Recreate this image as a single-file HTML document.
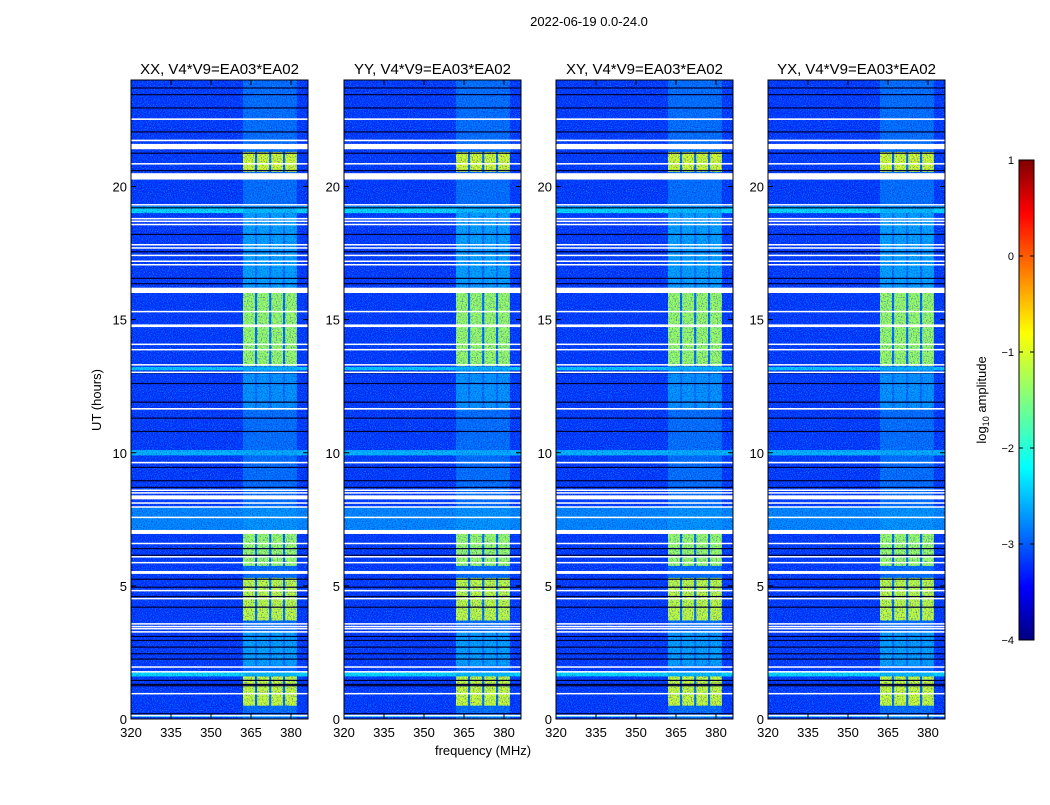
<!DOCTYPE html>
<html><head><meta charset="utf-8"><style>
body{margin:0;background:#fff;font-family:"Liberation Sans",sans-serif}
svg text{font-family:"Liberation Sans","DejaVu Sans",sans-serif}
</style></head><body>
<svg id="c" width="1050" height="800" xmlns="http://www.w3.org/2000/svg">
<defs>
<filter id="nz" x="0" y="0" width="100%" height="100%">
<feTurbulence type="fractalNoise" baseFrequency="0.95" numOctaves="2" seed="3"/>
<feColorMatrix type="matrix" values="0 0 0 0 0  0 0 0 0 0.7  0 0 0 0 1  0 0 0 3 -1.4"/>
</filter>
<filter id="nz2" x="0" y="0" width="100%" height="100%">
<feTurbulence type="fractalNoise" baseFrequency="0.8" numOctaves="1" seed="9"/>
<feColorMatrix type="matrix" values="0 0 0 0 0  0 0 0 0 0  0 0 0 0 0.5  0 0 0 3 -1.5"/>
</filter>
<linearGradient id="jet" x1="0" y1="1" x2="0" y2="0">
<stop offset="0" stop-color="#00007f"/><stop offset="0.11" stop-color="#0000ff"/>
<stop offset="0.36" stop-color="#00ffff"/><stop offset="0.5" stop-color="#7fff7f"/>
<stop offset="0.64" stop-color="#ffff00"/><stop offset="0.89" stop-color="#ff0000"/>
<stop offset="1" stop-color="#7f0000"/></linearGradient>
</defs>
<text x="589" y="26" font-size="13" text-anchor="middle">2022-06-19 0.0-24.0</text>
<text x="483" y="755" font-size="13" text-anchor="middle">frequency (MHz)</text>
<text transform="translate(101,400) rotate(-90)" font-size="13" text-anchor="middle">UT (hours)</text>
<g id="panels"></g>
<g>
<rect x="1019" y="160" width="15" height="480" fill="url(#jet)" stroke="#000" stroke-width="1"/>
<g id="cbt"></g>
<text transform="translate(986,400) rotate(-90)" font-size="13" text-anchor="middle">log<tspan font-size="9" dy="3">10</tspan><tspan dy="-3"> amplitude</tspan></text>
</g>
</svg>
<script>
const titles=["XX, V4*V9=EA03*EA02","YY, V4*V9=EA03*EA02","XY, V4*V9=EA03*EA02","YX, V4*V9=EA03*EA02"];
const freqTicks=[320,335,350,365,380];
const hourTicks=[0,5,10,15,20];
const cbTicks=[1,0,-1,-2,-3,-4];
const bgLevel=-3.15;
// broad bands [startHour,endHour,log10 amplitude]
const bands=[[19.0,19.25,-2.3],[13.1,13.22,-2.4],[9.9,10.1,-2.5],[7.1,7.95,-2.75],[1.6,1.75,-2.3],[0.08,0.15,-2.3]];
// RFI columns in MHz
const rfiCols=[[362,366.5],[367.3,371.8],[372.6,377],[377.8,382.2]];
const rfiFaint=-2.6;
// RFI bright blocks [startHour,endHour,level]
const blocks=[[20.55,21.3,-1.0],[13.25,16.0,-1.3],[5.75,6.95,-1.3],[3.7,5.3,-1.1],[0.5,1.6,-1.05],[2.0,3.3,-2.5],[16.2,19.0,-2.5],[11.6,13.1,-2.6]];
// white (flagged) lines [startHour,endHour]
const whites=[[22.5,22.56],[21.7,21.76],[21.4,21.6],[20.83,20.88],[20.26,20.5],[19.3,19.34],[18.55,18.6],[18.68,18.72],[18.78,18.82],[17.8,17.84],[17.68,17.72],[17.4,17.44],[17.18,17.22],[17.05,17.09],[16.0,16.2],[15.28,15.33],[14.72,14.82],[14.05,14.1],[13.85,13.9],[13.28,13.33],[13.0,13.05],[11.62,11.68],[9.6,9.66],[8.58,8.62],[8.48,8.52],[8.25,8.4],[8.1,8.14],[7.95,7.99],[7.55,7.6],[6.95,7.1],[6.58,6.62],[6.08,6.12],[5.85,5.9],[5.45,5.56],[4.8,4.85],[4.5,4.55],[3.55,3.6],[3.45,3.5],[3.38,3.42],[3.25,3.3],[1.93,1.98],[1.76,1.8],[0.93,0.98],[0.1,0.16]];
// dark (zero) lines [hour]
const darks=[23.7,23.45,22.95,22.05,21.25,20.6,19.2,18.2,17.55,16.55,16.35,13.0,12.6,11.9,11.3,10.8,9.45,8.95,8.7,6.4,6.15,5.25,4.95,4.6,4.2,3.1,2.95,2.7,2.45,2.25,1.45,1.3,1.25,0.2];
function jet(v){let t=(v+4)/5;t=Math.max(0,Math.min(1,t));
 const r=Math.min(1,Math.max(0,1.5-Math.abs(4*t-3))),g=Math.min(1,Math.max(0,1.5-Math.abs(4*t-2))),b=Math.min(1,Math.max(0,1.5-Math.abs(4*t-1)));
 return `rgb(${Math.round(r*255)},${Math.round(g*255)},${Math.round(b*255)})`;}
const NS="http://www.w3.org/2000/svg";
function mk(tag,attrs,parent){const e=document.createElementNS(NS,tag);for(const k in attrs)e.setAttribute(k,attrs[k]);parent.appendChild(e);return e;}
const px=[131,344,556,768],W=177,Y0=80,Y1=719;
const yS=h=>Y1-h*(Y1-Y0)/24;
const root=document.getElementById('panels');
px.forEach((x0,pi)=>{
 const xS=f=>x0+(f-320)*160/60;
 const g=mk('g',{},root);
 
 
 const bg=mk('rect',{x:x0,y:Y0,width:W,height:Y1-Y0,fill:jet(bgLevel)},g);
 
 
 bands.forEach(b=>{const r=mk('rect',{x:x0,y:yS(b[1]),width:W,height:yS(b[0])-yS(b[1]),fill:jet(b[2])},g);
  
  });
 const rf=mk('rect',{x:xS(rfiCols[0][0]),y:Y0,width:xS(rfiCols[3][1])-xS(rfiCols[0][0]),height:Y1-Y0,fill:jet(rfiFaint),opacity:0.5},g);
 
 
 blocks.forEach(b=>rfiCols.forEach(c=>{const r=mk('rect',{x:xS(c[0]),y:yS(b[1]),width:xS(c[1])-xS(c[0]),height:yS(b[0])-yS(b[1]),fill:jet(b[2]),opacity:b[2]<-2?0.7:1},g);
  
  }));
 const nz=mk('rect',{x:x0,y:Y0,width:W,height:Y1-Y0,filter:'url(#nz)',opacity:0.6},g);
 
 
 const nz2=mk('rect',{x:x0,y:Y0,width:W,height:Y1-Y0,filter:'url(#nz2)',opacity:0.6},g);
 
 
 darks.forEach(h=>{const r=mk('rect',{x:x0,y:yS(h)-0.6,width:W,height:1.2,fill:'#000030'},g);
  
  });
 whites.forEach(w=>{const r=mk('rect',{x:x0,y:yS(w[1]),width:W,height:Math.max(1.5,yS(w[0])-yS(w[1])),fill:'#fff'},g);
  
  });
 mk('rect',{x:x0,y:Y0,width:W,height:Y1-Y0,fill:'none',stroke:'#000','stroke-width':1},g);
 const t=mk('text',{x:x0+W/2,y:74,'font-size':15,'text-anchor':'middle'},g);t.textContent=titles[pi];
 
 
 freqTicks.forEach(f=>{const x=xS(f);mk('line',{x1:x,x2:x,y1:Y1,y2:Y1-5,stroke:'#000'},g);mk('line',{x1:x,x2:x,y1:Y0,y2:Y0+5,stroke:'#000'},g);
  const l=mk('text',{x:x,y:737,'font-size':13,'text-anchor':'middle'},g);l.textContent=f;
  
  });
 hourTicks.forEach(h=>{const y=yS(h);mk('line',{x1:x0,x2:x0+5,y1:y,y2:y,stroke:'#000'},g);mk('line',{x1:x0+W,x2:x0+W-5,y1:y,y2:y,stroke:'#000'},g);
  const l=mk('text',{x:x0-4,y:y+5,'font-size':13,'text-anchor':'end'},g);l.textContent=h;
  
  });
});
const cb=document.getElementById('cbt');
cbTicks.forEach(v=>{const y=640-(v+4)*96;
 mk('line',{x1:1019,x2:1023,y1:y,y2:y,stroke:'#000'},cb);mk('line',{x1:1034,x2:1030,y1:y,y2:y,stroke:'#000'},cb);
 const l=mk('text',{x:1014,y:y+4,'font-size':11,'text-anchor':'end'},cb);l.textContent=v<0?'\u2212'+(-v):v;
 
 });
</script>
</body></html>
